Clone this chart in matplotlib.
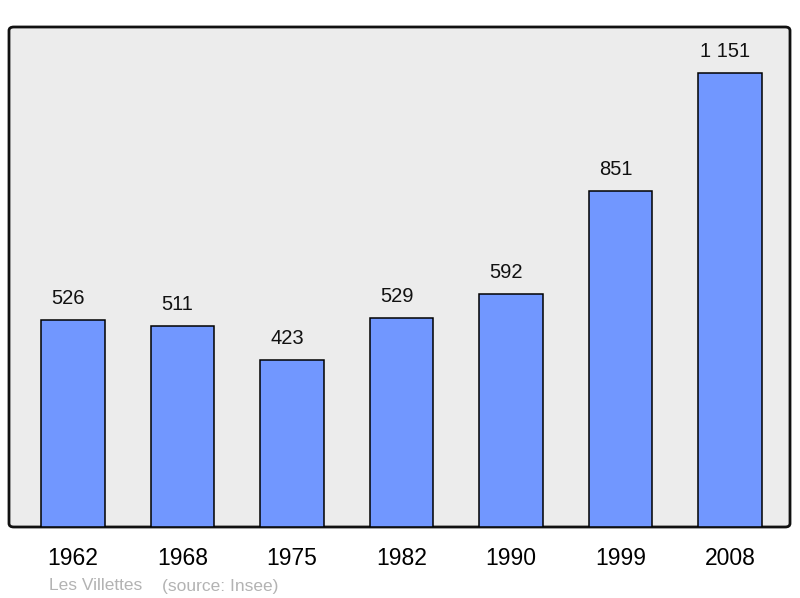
import matplotlib.pyplot as plt
from matplotlib.patches import FancyBboxPatch

plt.rcParams['font.family'] = ['Liberation Sans', 'DejaVu Sans']

years = ['1962', '1968', '1975', '1982', '1990', '1999', '2008']
population = [526, 511, 423, 529, 592, 851, 1151]
value_labels = ['526', '511', '423', '529', '592', '851', '1 151']

fig = plt.figure(figsize=(8, 5.98), dpi=100)
ax = fig.add_axes([9 / 800, 71 / 598, 781 / 800, 500 / 598])
ax.set_facecolor('none')

# rounded grey panel behind the bars
panel = FancyBboxPatch((9 / 800, 71 / 598), 781 / 800, 500 / 598,
                       boxstyle='round,pad=0,rounding_size=0.006',
                       transform=fig.transFigure, facecolor='#ececec',
                       edgecolor='#111111', linewidth=2, zorder=-1)
fig.patches.append(panel)

x = list(range(len(years)))
ax.bar(x, population, width=0.578, color='#7197ff', edgecolor='black',
       linewidth=1.1, zorder=2)

for xi, v, lab in zip(x, population, value_labels):
    ax.annotate(lab, (xi, v), xytext=(-3.5, 11.5), textcoords='offset points',
                ha='center', va='baseline', fontsize=14.5, color='#111111')

ax.set_xlim(-0.584, 6.548)
ax.set_ylim(0, 1268)
ax.set_xticks(x)
ax.set_xticklabels(years, fontsize=16.5)
ax.tick_params(axis='x', length=0, pad=14.5)
ax.set_yticks([])
for s in ax.spines.values():
    s.set_visible(False)

fig.text(49 / 800, 1 - 586 / 598, 'Les Villettes', fontsize=12.5,
         color='#b3b3b3', va='center')
fig.text(162 / 800, 1 - 586 / 598, '(source: Insee)', fontsize=12.5,
         color='#b3b3b3', va='center')

fig.savefig('out.png', dpi=100)
